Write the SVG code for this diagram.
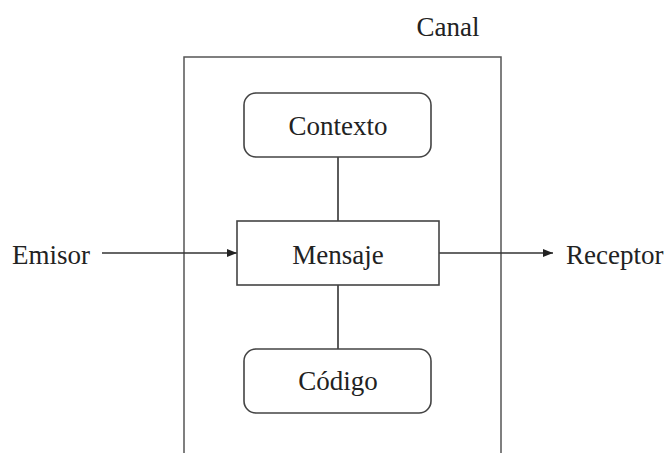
<svg xmlns="http://www.w3.org/2000/svg" width="670" height="453" viewBox="0 0 670 453">
<style>
.t{font-family:'Liberation Serif','DejaVu Serif',serif;font-size:27px;fill:#222}
.box{fill:#fff;stroke:#444;stroke-width:1.6}
.ln{stroke:#333;stroke-width:1.6;fill:none}
.frame{stroke:#555;stroke-width:1.5;fill:none}
</style>
<defs>
<marker id="ah" viewBox="0 0 10 8" refX="10" refY="4" markerWidth="10" markerHeight="8" markerUnits="userSpaceOnUse" orient="auto">
<path d="M0,0 L10,4 L0,8 Z" fill="#222"/>
</marker>
</defs>
<g id="canal">
<path class="frame" d="M184,453 V57 H501 V453"/>
<text class="t" x="448" y="36" text-anchor="middle">Canal</text>
</g>
<g id="connectors">
<line class="ln" x1="338" y1="157" x2="338" y2="221"/>
<line class="ln" x1="338" y1="285" x2="338" y2="349"/>
<line class="ln" x1="102" y1="253" x2="237" y2="253" marker-end="url(#ah)"/>
<line class="ln" x1="439" y1="253" x2="553" y2="253" marker-end="url(#ah)"/>
</g>
<g id="contexto">
<rect class="box" x="244" y="93" width="187" height="64" rx="12"/>
<text class="t" x="338" y="135" text-anchor="middle">Contexto</text>
</g>
<g id="mensaje">
<rect class="box" x="237" y="221" width="202" height="64"/>
<text class="t" x="338" y="264" text-anchor="middle">Mensaje</text>
</g>
<g id="codigo">
<rect class="box" x="244" y="349" width="187" height="64" rx="12"/>
<text class="t" x="338" y="390" text-anchor="middle">Código</text>
</g>
<g id="emisor">
<text class="t" x="12" y="264">Emisor</text>
</g>
<g id="receptor">
<text class="t" x="566" y="264">Receptor</text>
</g>
</svg>
